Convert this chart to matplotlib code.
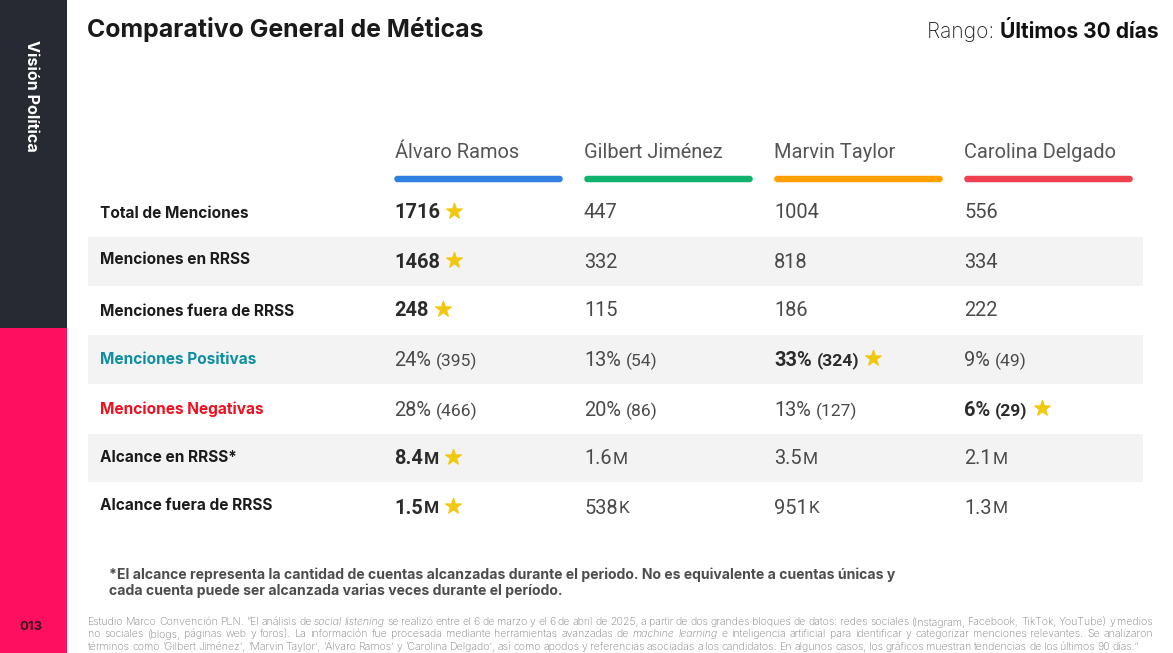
import matplotlib
matplotlib.use("Agg")
import matplotlib.pyplot as plt
from matplotlib.patches import Rectangle, FancyBboxPatch

# ---- data ----
candidates = ["Álvaro Ramos", "Gilbert Jiménez", "Marvin Taylor", "Carolina Delgado"]
candidate_colors = ["#2F80E0", "#10B26C", "#FF9F00", "#F04050"]
metrics = ["Total de Menciones", "Menciones en RRSS", "Menciones fuera de RRSS",
           "Menciones Positivas", "Menciones Negativas", "Alcance en RRSS*", "Alcance fuera de RRSS"]
metric_colors = ["#1B1B1B", "#1B1B1B", "#1B1B1B", "#0E8FA0", "#F01020", "#1B1B1B", "#1B1B1B"]
alvaro_main = ["1716", "1468", "248", "24%", "28%", "8.4", "1.5"]
alvaro_sub = ["", "", "", "(395)", "(466)", "M", "M"]
gilbert_main = ["447", "332", "115", "13%", "20%", "1.6", "538"]
gilbert_sub = ["", "", "", "(54)", "(86)", "M", "K"]
marvin_main = ["1004", "818", "186", "33%", "13%", "3.5", "951"]
marvin_sub = ["", "", "", "(324)", "(127)", "M", "K"]
carolina_main = ["556", "334", "222", "9%", "6%", "2.1", "1.3"]
carolina_sub = ["", "", "", "(49)", "(29)", "M", "M"]
winners = [0, 0, 0, 2, 3, 0, 0]

mains = [alvaro_main, gilbert_main, marvin_main, carolina_main]
subs = [alvaro_sub, gilbert_sub, marvin_sub, carolina_sub]

title = "Comparativo General de Méticas"
note_lines = ["*El alcance representa la cantidad de cuentas alcanzadas durante el periodo. No es equivalente a cuentas únicas y",
              "cada cuenta puede ser alcanzada varias veces durante el período."]
foot_lines = [
    "Estudio Marco Convención PLN. “El análisis de _social _listening se realizó entre el 6 de marzo y el 6 de abril de 2025, a partir de dos grandes bloques de datos: redes sociales (Instagram, Facebook, TikTok, YouTube) y medios",
    "no sociales (blogs, páginas web y foros). La información fue procesada mediante herramientas avanzadas de _machine _learning e inteligencia artificial para identificar y categorizar menciones relevantes. Se analizaron",
    "términos como ‘Gilbert Jiménez’, ‘Marvin Taylor’, ‘Álvaro Ramos’ y ‘Carolina Delgado’, así como apodos y referencias asociadas a los candidatos. En algunos casos, los gráficos muestran tendencias de los últimos 90 días.”",
]

# ---- layout ----
col_x = [394, 584, 774, 964]
row_y = [211, 260, 309, 358, 408, 457, 506]
label_y = [214, 260, 311, 360, 409, 457, 506]
HEAD = "Inter"
NUM = "Roboto"

fig = plt.figure(figsize=(11.73, 6.53), dpi=100, facecolor="white")
ax = fig.add_axes([0, 0, 1, 1])
ax.set_xlim(0, 1173)
ax.set_ylim(653, 0)
ax.axis("off")
rend = fig.canvas.get_renderer()


def width(t):
    bb = t.get_window_extent(rend)
    return bb.width


ax.add_patch(Rectangle((0, 0), 67, 328, color="#282A33", lw=0))
ax.add_patch(Rectangle((0, 328), 67, 325, color="#FF0F5F", lw=0))
ax.text(31, 96, "Visión Política", color="white", rotation=-90, ha="center", va="center",
        family=HEAD, weight="bold", fontsize=11.6)
ax.text(31, 627, "013", color="#3A1020", ha="center", va="center", family=HEAD, weight="bold", fontsize=9.5)

ax.text(87, 29.5, title, color="#1A1A1A", ha="left", va="center", family=HEAD, weight="bold", fontsize=17.9)
t2 = ax.text(1159, 31.5, "Últimos 30 días", color="#111111", ha="right", va="center", family=HEAD,
             weight="bold", fontsize=15.1)
ax.text(1159 - width(t2), 31.5, "Rango: ", color="#222222", ha="right", va="center", family=HEAD,
        weight="light", fontsize=15.1)

for y0 in (237, 335, 433.5):
    ax.add_patch(Rectangle((88, y0), 1055, 48.5, color="#F3F3F3", lw=0))

for i, (name, color, x) in enumerate(zip(candidates, candidate_colors, col_x)):
    ax.text(x + 1 if i == 0 else x, 153, name, color="#555555", ha="left", va="center", family=NUM, fontsize=14.4)
    ax.add_patch(FancyBboxPatch((x + 2, 177.5), 165, 3, boxstyle="round,pad=0,rounding_size=1.5",
                                fc=color, ec=color, lw=2.5))

for metric, color, y in zip(metrics, metric_colors, label_y):
    ax.text(100, y, metric, color=color, ha="left", va="center", family=HEAD, weight="bold", fontsize=11.1)

for c, x in enumerate(col_x):
    for r, y in enumerate(row_y):
        win = winners[r] == c
        weight = "bold" if win else "normal"
        col = "#2B2B2B" if win else "#4A4A4A"
        t = ax.text(x, y, mains[c][r], color=col, ha="left", va="center_baseline", family=NUM,
                    weight=weight, fontsize=14.4)
        end = x + width(t)
        if subs[c][r]:
            paren = subs[c][r].startswith("(")
            gap = 5 if paren else 1
            s = ax.text(end + gap, y + 1, subs[c][r], color=col, ha="left", va="center_baseline",
                        family=NUM, weight=weight, fontsize=12.6 if paren else 12.4)
            end = end + gap + width(s)
        if win:
            ax.scatter([end + 14], [y], marker="*", s=135, color="#F2C80F", linewidths=1.0,
                       edgecolors="#F2C80F", zorder=4)

for line, y in zip(note_lines, (575, 591)):
    ax.text(109, y, line, color="#4D4D4D", ha="left", va="center", family=HEAD, weight="bold", fontsize=10.1)


def justified(line, y, x0, x1, justify=True):
    parts = []
    for w in line.split(" "):
        italic = w.startswith("_")
        w = w.lstrip("_")
        t = ax.text(x0, y, w, color="#7E7E7E", ha="left", va="center", family=HEAD, weight="light",
                    style="italic" if italic else "normal", fontsize=7.6)
        parts.append((t, width(t)))
    total = sum(p[1] for p in parts)
    gap = (x1 - x0 - total) / (len(parts) - 1) if justify else 2.6
    x = x0
    for t, w in parts:
        t.set_x(x)
        x += w + gap


justified(foot_lines[0], 622, 88, 1153)
justified(foot_lines[1], 634, 88, 1153)
justified(foot_lines[2], 647, 88, 1139)

fig.savefig("out.png", dpi=100, facecolor="white")
